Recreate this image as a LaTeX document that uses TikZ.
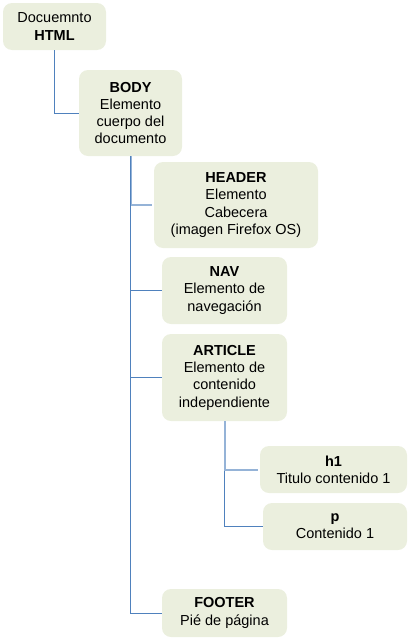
\documentclass[tikz,border=0pt]{standalone}
\usepackage{fontspec}
\setmainfont{Liberation Sans}
\definecolor{boxfill}{HTML}{EBEFDE}
\definecolor{linkblue}{HTML}{4F81BD}
\definecolor{linklight}{HTML}{95B3D7}
\begin{document}
\begin{tikzpicture}[x=1pt,y=-1pt,
  box/.style={fill=boxfill, draw=none, rounded corners=9pt, align=center, inner sep=0pt,
    font=\fontsize{14.5}{17.3}\selectfont, text=black},
  link/.style={draw=linkblue, line width=1pt},
  linkb/.style={draw=linklight, line width=2pt}]
\useasboundingbox (0,0) rectangle (411,640);
\node[box, minimum width=103pt, minimum height=47pt] (doc) at (54.5,26.5) {Docuemnto\\\textbf{HTML}};
\node[box, minimum width=103pt, minimum height=86pt] (body) at (130.5,113) {\textbf{BODY}\\Elemento\\cuerpo del\\documento};
\node[box, minimum width=164pt, minimum height=86pt] (header) at (236,205) {\textbf{HEADER}\\Elemento\\Cabecera\\(imagen Firefox OS)};
\node[box, minimum width=125pt, minimum height=67pt] (nav) at (224.5,290.5) {\textbf{NAV}\\Elemento de\\navegación};
\node[box, minimum width=125pt, minimum height=87pt] (article) at (224.5,377.5) {\textbf{ARTICLE}\\Elemento de\\contenido\\independiente};
\node[box, minimum width=147pt, minimum height=47pt] (h1) at (333.5,469.5) {\textbf{h1}\\Titulo contenido 1};
\node[box, minimum width=144pt, minimum height=47pt] (p) at (335,526.5) {\textbf{p}\\Contenido 1};
\node[box, minimum width=125pt, minimum height=48pt] (footer) at (224.5,613) {\textbf{FOOTER}\\Pié de página};
\draw[link] (doc.south) |- (body.west);
\draw[link] (body.south) |- (footer.west);
\draw[linkb] (body.south) |- ([xshift=-2pt]header.west);
\draw[link] (body.south) |- (nav.west);
\draw[link] (body.south) |- (article.west);
\draw[link] (article.south) |- (p.west);
\draw[linkb] (article.south) |- ([xshift=-2pt]h1.west);
\end{tikzpicture}
\end{document}
